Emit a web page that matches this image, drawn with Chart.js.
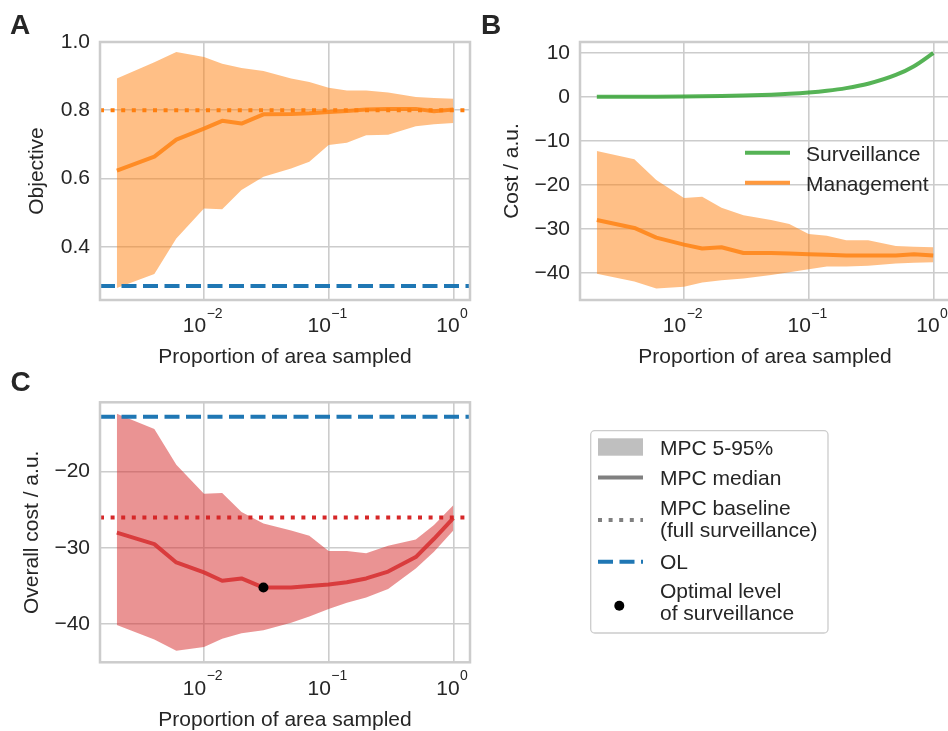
<!DOCTYPE html>
<html>
<head>
<meta charset="utf-8">
<script src="https://cdn.jsdelivr.net/npm/chart.js@4.4.1/dist/chart.umd.min.js"></script>
<style>
  html, body { margin: 0; padding: 0; background: #ffffff; }
  body { width: 948px; height: 731px; overflow: hidden; position: relative;
         font-family: "Liberation Sans", Arial, Helvetica, sans-serif; }
  canvas { position: absolute; }
  #overlay { position: absolute; left: 0; top: 0; z-index: 5; pointer-events: none; }
</style>
</head>
<body>
<canvas id="chartA" width="480" height="380" style="left:0px;top:0px;"></canvas>
<canvas id="chartB" width="480" height="380" style="left:480px;top:0px;"></canvas>
<canvas id="chartC" width="480" height="380" style="left:0px;top:370px;"></canvas>

<svg id="overlay" width="948" height="731" xmlns="http://www.w3.org/2000/svg"
     font-family="Liberation Sans, Arial, Helvetica, sans-serif" fill="#262626">
  <!-- panel letters -->
  <text x="10" y="33.5" font-size="28" font-weight="bold">A</text>
  <text x="481" y="33.5" font-size="28" font-weight="bold">B</text>
  <text x="10.5" y="391" font-size="28" font-weight="bold">C</text>

  <!-- legend inside panel B -->
  <line x1="745" x2="790" y1="152.7" y2="152.7" stroke="rgba(44,160,44,0.8)" stroke-width="4"/>
  <text x="806" y="161" font-size="21">Surveillance</text>
  <line x1="745" x2="790" y1="182.7" y2="182.7" stroke="rgba(255,127,14,0.8)" stroke-width="4"/>
  <text x="806" y="191" font-size="21">Management</text>

  <!-- shared legend -->
  <rect x="590.7" y="430.7" width="237.3" height="202.3" rx="4" ry="4" fill="#ffffff" stroke="#cccccc" stroke-width="1.3"/>
  <rect x="598" y="438.3" width="45" height="17.4" fill="#bfbfbf"/>
  <text x="660" y="455" font-size="21">MPC 5-95%</text>
  <line x1="598" x2="643" y1="477.5" y2="477.5" stroke="#808080" stroke-width="4"/>
  <text x="660" y="485" font-size="21">MPC median</text>
  <line x1="598" x2="643" y1="520" y2="520" stroke="#808080" stroke-width="4" stroke-dasharray="4 6.6"/>
  <text x="660" y="515" font-size="21">MPC baseline</text>
  <text x="660" y="537" font-size="21">(full surveillance)</text>
  <line x1="598" x2="643" y1="561.7" y2="561.7" stroke="#1f77b4" stroke-width="4" stroke-dasharray="15 6.5"/>
  <text x="660" y="569.3" font-size="21">OL</text>
  <circle cx="619.3" cy="605.7" r="5" fill="#000000"/>
  <text x="660" y="598.3" font-size="21">Optimal level</text>
  <text x="660" y="620" font-size="21">of surveillance</text>
</svg>

<script>
// ---------------- data ----------------
const X_VALUES = [0.002, 0.004, 0.006, 0.01, 0.014, 0.02, 0.03, 0.05, 0.07, 0.1, 0.14, 0.2, 0.3, 0.5, 0.7, 1.0];
const X_LIMITS = [0.001466, 1.361];
const X_TICKS = [0.01, 0.1, 1];
const X_TICK_EXPONENTS = ['\u22122', '\u22121', '0'];

// Panel A: objective
const objMedian = [0.623, 0.664, 0.714, 0.746, 0.769, 0.761, 0.788, 0.789, 0.791, 0.795, 0.798, 0.802, 0.804, 0.804, 0.797, 0.802];
const objUpper  = [0.893, 0.941, 0.971, 0.956, 0.936, 0.924, 0.915, 0.893, 0.883, 0.866, 0.858, 0.858, 0.852, 0.839, 0.836, 0.834];
const objLower  = [0.279, 0.320, 0.424, 0.512, 0.510, 0.566, 0.605, 0.629, 0.649, 0.698, 0.705, 0.727, 0.728, 0.753, 0.759, 0.763];
const objBaseline = 0.80;
const objOL = 0.285;
const objYTicks = [0.4, 0.6, 0.8, 1.0];

// Panel B: cost components
const survCost   = [0.02, 0.04, 0.06, 0.1, 0.14, 0.2, 0.3, 0.5, 0.7, 1.0, 1.4, 2.0, 3.0, 5.0, 7.0, 10.0];
const mgmtMedian = [-28.0, -29.8, -32.0, -33.6, -34.5, -34.2, -35.5, -35.5, -35.6, -35.8, -35.9, -36.1, -36.1, -36.1, -35.8, -36.1];
const mgmtUpper  = [-12.3, -14.2, -18.9, -23.0, -22.7, -25.2, -26.9, -28.0, -28.9, -31.2, -31.6, -32.6, -32.6, -33.9, -34.1, -34.2];
const mgmtLower  = [-40.2, -42.0, -43.6, -43.2, -42.2, -41.7, -41.3, -40.5, -39.9, -39.2, -38.6, -38.6, -38.4, -37.9, -37.7, -37.6];
const costYTicks = [-40, -30, -20, -10, 0, 10];

// Panel C: overall cost
const overallMedian = [-28.0, -29.5, -31.9, -33.2, -34.3, -34.0, -35.2, -35.2, -35.0, -34.8, -34.5, -34.0, -33.1, -31.2, -28.8, -26.1];
const overallUpper  = [-12.4, -14.4, -19.1, -22.9, -22.8, -25.3, -26.8, -27.7, -28.4, -30.4, -30.4, -30.7, -29.7, -28.9, -27.0, -24.4];
const overallLower  = [-40.1, -42.0, -43.5, -43.0, -41.9, -41.2, -40.8, -39.8, -39.0, -38.0, -37.2, -36.5, -35.4, -32.7, -30.5, -27.7];
const overallBaseline = -26.0;
const overallOL = -12.8;
const optimalX = 0.03;
const optimalY = -35.2;
const overallYTicks = [-40, -30, -20];

// ---------------- styling ----------------
const FONT = '"Liberation Sans", Arial, Helvetica, sans-serif';
const TEXT = '#262626';
const GRID = '#cccccc';
Chart.defaults.font.family = FONT;
Chart.defaults.font.size = 21;
Chart.defaults.color = TEXT;

const pts = (ys) => X_VALUES.map((x, i) => ({ x: x, y: ys[i] }));
const hline = (y) => [{ x: X_LIMITS[0], y: y }, { x: X_LIMITS[1], y: y }];
const minus = (v) => (v < 0 ? '\u2212' + Math.abs(v) : String(v));

const frameAndTicks = {
  id: 'frameAndTicks',
  afterDraw(chart) {
    const { ctx, chartArea: a } = chart;
    const xs = chart.scales.x;
    ctx.save();
    ctx.strokeStyle = GRID;
    ctx.lineWidth = 2.5;
    ctx.strokeRect(a.left, a.top, a.right - a.left, a.bottom - a.top);
    ctx.fillStyle = TEXT;
    ctx.textBaseline = 'alphabetic';
    ctx.textAlign = 'left';
    X_TICKS.forEach((v, i) => {
      const px = xs.getPixelForValue(v);
      ctx.font = '21px ' + FONT;
      const w1 = ctx.measureText('10').width;
      ctx.font = '14px ' + FONT;
      const w2 = ctx.measureText(X_TICK_EXPONENTS[i]).width;
      const start = px - (w1 + w2) / 2 - 1.5;
      const base = a.bottom + 32.3;
      ctx.font = '21px ' + FONT;
      ctx.fillText('10', start, base);
      ctx.font = '14px ' + FONT;
      ctx.fillText(X_TICK_EXPONENTS[i], start + w1 + 0.5, base - 14.6);
    });
    ctx.restore();
  }
};

function makeChart(id, cfg) {
  return new Chart(document.getElementById(id), {
    type: 'line',
    data: { datasets: cfg.datasets },
    options: {
      responsive: false,
      animation: false,
      devicePixelRatio: 1,
      layout: { padding: { top: cfg.padTop, right: 10, left: 0, bottom: 0 } },
      plugins: { legend: { display: false }, tooltip: { enabled: false } },
      elements: { point: { radius: 0 }, line: { tension: 0, borderJoinStyle: 'round' } },
      scales: {
        x: {
          type: 'logarithmic',
          min: X_LIMITS[0], max: X_LIMITS[1],
          afterBuildTicks: (s) => { s.ticks = X_TICKS.map((v) => ({ value: v })); },
          afterFit: (s) => { s.height = cfg.xAxisHeight; },
          ticks: { display: false },
          grid: { color: GRID, lineWidth: 1.6, drawTicks: false },
          border: { display: false },
          title: { display: true, text: 'Proportion of area sampled', color: TEXT,
                   font: { size: 21 }, padding: { top: 0, bottom: cfg.xTitlePad } }
        },
        y: {
          type: 'linear',
          min: cfg.yMin, max: cfg.yMax,
          afterBuildTicks: (s) => { s.ticks = cfg.yTicks.map((v) => ({ value: v })); },
          afterFit: (s) => { s.width = 100; },
          ticks: { padding: 10, color: TEXT, font: { size: 21 }, callback: cfg.yFormat },
          grid: { color: GRID, lineWidth: 1.6, drawTicks: false },
          border: { display: false },
          title: { display: true, text: cfg.yTitle, color: TEXT, font: { size: 21 },
                   padding: { top: cfg.yTitlePad, bottom: 0 } }
        }
      }
    },
    plugins: [frameAndTicks]
  });
}

// Panel A
makeChart('chartA', {
  padTop: 42, xAxisHeight: 80, xTitlePad: 9.7, yTitlePad: 25,
  yMin: 0.244, yMax: 1.0, yTicks: objYTicks, yTitle: 'Objective',
  yFormat: (v) => Number(v).toFixed(1),
  datasets: [
    { label: 'OL', data: hline(objOL), borderColor: '#1f77b4', borderWidth: 4, borderDash: [15, 6.5], borderCapStyle: 'butt', order: 0 },
    { label: 'MPC baseline', data: hline(objBaseline), borderColor: '#ff7f0e', borderWidth: 4, borderDash: [4, 6.6], borderCapStyle: 'butt', order: 1 },
    { label: 'MPC median', data: pts(objMedian), borderColor: 'rgba(255,127,14,0.8)', borderWidth: 4, borderCapStyle: 'butt', order: 2 },
    { label: 'MPC 95%', data: pts(objUpper), borderWidth: 0, backgroundColor: 'rgba(255,127,14,0.5)', fill: '+1', order: 3 },
    { label: 'MPC 5%', data: pts(objLower), borderWidth: 0, fill: false, order: 4 }
  ]
});

// Panel B
makeChart('chartB', {
  padTop: 42, xAxisHeight: 80, xTitlePad: 9.7, yTitlePad: 20,
  yMin: -46.2, yMax: 12.5, yTicks: costYTicks, yTitle: 'Cost / a.u.',
  yFormat: (v) => minus(v),
  datasets: [
    { label: 'Surveillance', data: pts(survCost), borderColor: 'rgba(44,160,44,0.8)', borderWidth: 4, borderCapStyle: 'butt', cubicInterpolationMode: 'monotone', order: 0 },
    { label: 'Management', data: pts(mgmtMedian), borderColor: 'rgba(255,127,14,0.8)', borderWidth: 4, borderCapStyle: 'butt', order: 1 },
    { label: 'Management 95%', data: pts(mgmtUpper), borderWidth: 0, backgroundColor: 'rgba(255,127,14,0.5)', fill: '+1', order: 2 },
    { label: 'Management 5%', data: pts(mgmtLower), borderWidth: 0, fill: false, order: 3 }
  ]
});

// Panel C
makeChart('chartC', {
  padTop: 32.3, xAxisHeight: 87.7, xTitlePad: 17, yTitlePad: 20,
  yMin: -45.0, yMax: -10.9, yTicks: overallYTicks, yTitle: 'Overall cost / a.u.',
  yFormat: (v) => minus(v),
  datasets: [
    { label: 'Optimal level of surveillance', type: 'line', showLine: false, data: [{ x: optimalX, y: optimalY }],
      pointRadius: 5, pointBackgroundColor: '#000000', pointBorderWidth: 0, order: 0 },
    { label: 'OL', data: hline(overallOL), borderColor: '#1f77b4', borderWidth: 4, borderDash: [15, 6.5], borderCapStyle: 'butt', order: 1 },
    { label: 'MPC baseline', data: hline(overallBaseline), borderColor: '#d62728', borderWidth: 4, borderDash: [4, 6.6], borderCapStyle: 'butt', order: 2 },
    { label: 'MPC median', data: pts(overallMedian), borderColor: 'rgba(214,39,40,0.8)', borderWidth: 4, borderCapStyle: 'butt', order: 3 },
    { label: 'MPC 95%', data: pts(overallUpper), borderWidth: 0, backgroundColor: 'rgba(214,39,40,0.5)', fill: '+1', order: 4 },
    { label: 'MPC 5%', data: pts(overallLower), borderWidth: 0, fill: false, order: 5 }
  ]
});
</script>
</body>
</html>
